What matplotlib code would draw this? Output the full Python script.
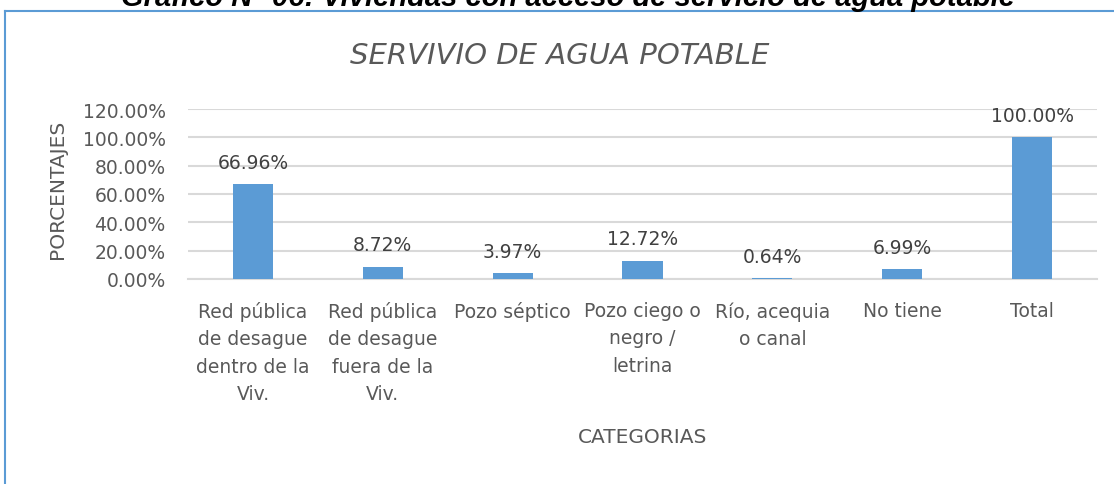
import numpy as np
import matplotlib.pyplot as plt
from matplotlib.lines import Line2D

categorias = ["Red pública\nde desague\ndentro de la\nViv.",
              "Red pública\nde desague\nfuera de la\nViv.",
              "Pozo séptico",
              "Pozo ciego o\nnegro /\nletrina",
              "Río, acequia\no canal",
              "No tiene",
              "Total"]
porcentajes = [66.96, 8.72, 3.97, 12.72, 0.64, 6.99, 100.00]
yticks = [0, 20, 40, 60, 80, 100, 120]

plt.rcParams['font.family'] = ['DejaVu Sans']
gris = '#595959'
azul = '#5B9BD5'

fig = plt.figure(figsize=(11.14, 4.85), dpi=100)
ax = fig.add_axes([188 / 1114, 1 - 280 / 485, (1097 - 188) / 1114, 170 / 485])

x = np.arange(len(categorias))
ax.bar(x, porcentajes, width=0.31, color=azul, zorder=3)
for xi, v in zip(x, porcentajes):
    ax.annotate(f'{v:.2f}%', (xi, v), xytext=(0, 9), textcoords='offset points',
                ha='center', va='bottom', fontsize=13.5, color='#404040')

ax.set_xlim(-0.5, len(categorias) - 0.5)
ax.set_ylim(0, 120)
ax.set_yticks(yticks)
ax.set_yticklabels([f'{t:.2f}%' for t in yticks], fontsize=13.5, color=gris)
ax.set_xticks(x)
ax.set_xticklabels(categorias, fontsize=13.5, color=gris, va='top', linespacing=1.55)
ax.tick_params(length=0)
ax.tick_params(axis='x', pad=16)
ax.tick_params(axis='y', pad=16)
ax.grid(axis='y', color='#D9D9D9', lw=1.5, zorder=0)
for s in ['top', 'right', 'left']:
    ax.spines[s].set_visible(False)
ax.spines['bottom'].set_color('#D9D9D9')
ax.spines['bottom'].set_linewidth(1.5)

ax.set_ylabel('PORCENTAJES', fontsize=14.5, color=gris)
ax.yaxis.set_label_coords(-0.133, 0.532)
fig.text(643 / 1114, 1 - 438 / 485, 'CATEGORIAS', fontsize=14.5, color=gris,
         ha='center', va='center')
fig.text(560 / 1114, 1 - 56 / 485, 'SERVIVIO DE AGUA POTABLE', fontsize=21,
         color=gris, style='italic', ha='center', va='center')
fig.text(568 / 1114, 1 - 6 / 485, 'Gráfico N° 06: Viviendas con acceso de servicio de agua potable',
         fontsize=21, fontweight='bold', style='italic', color='black',
         family=['Liberation Sans', 'DejaVu Sans'], ha='center', va='baseline')

# marco del grafico
fig.add_artist(Line2D([5 / 1114, 5 / 1114], [0, 1 - 12 / 485], color=azul, lw=1.5))
fig.add_artist(Line2D([5 / 1114, 1], [1 - 12 / 485, 1 - 12 / 485], color=azul, lw=1.5))

fig.savefig('out.png', dpi=100)
